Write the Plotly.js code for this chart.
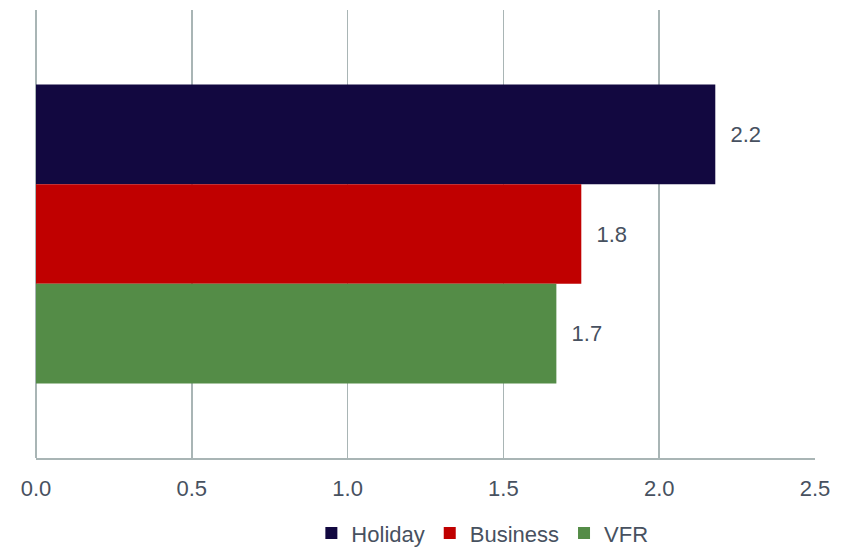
<!DOCTYPE html>
<html>
<head>
<meta charset="utf-8">
<script src="https://cdn.plot.ly/plotly-3.0.1.min.js"></script>
<style>html,body{margin:0;padding:0;background:#fff;}#chart{width:846px;height:548px;}</style>
</head>
<body>
<div id="chart"></div>
<script>
const categories = ["All"];
const seriesNames = ["Holiday", "Business", "VFR"];
const holiday = [2.18];
const business = [1.75];
const vfr = [1.67];
const labels = [["2.2"], ["1.8"], ["1.7"]];
const tickVals = [0, 0.5, 1.0, 1.5, 2.0, 2.5];
const tickText = ["0.0", "0.5", "1.0", "1.5", "2.0", "2.5"];
const colors = ["#120840", "#c00000", "#548c47"];

const values = [holiday, business, vfr];
const pad = "\u00a0\u00a0";
const FONT = "Liberation Sans, Arial, sans-serif";
const traces = seriesNames.map((name, i) => ({
  type: "bar",
  orientation: "h",
  name: name,
  y: categories,
  x: values[i],
  text: labels[i].map(t => pad + t),
  textposition: "outside",
  constraintext: "none",
  cliponaxis: false,
  textfont: {family: FONT, size: 22, color: "#475160"},
  marker: {color: colors[i]},
  hoverinfo: "x+name"
}));

const layout = {
  width: 846, height: 548,
  margin: {l: 36, r: 31, t: 10, b: 90, autoexpand: false},
  paper_bgcolor: "#ffffff", plot_bgcolor: "#ffffff",
  barmode: "group",
  bargap: 0.333,
  bargroupgap: 0,
  showlegend: true,
  legend: {
    orientation: "h", x: 0.573, xanchor: "center", y: -0.121, yanchor: "top",
    font: {family: FONT, size: 22, color: "#475160"},
    itemwidth: 30, tracegroupgap: 0, traceorder: "normal"
  },
  xaxis: {
    range: [0, 2.5], tickvals: tickVals, ticktext: tickText,
    showgrid: true, gridcolor: "#a9b5b5", gridwidth: 1.5,
    zeroline: true, zerolinecolor: "#a9b5b5", zerolinewidth: 1.5,
    showline: true, linecolor: "#a9b5b5", linewidth: 1.5,
    ticks: "", ticklabelstandoff: 10,
    tickfont: {family: FONT, size: 22, color: "#475160"},
    automargin: false,
    fixedrange: true
  },
  yaxis: {
    autorange: "reversed", showticklabels: false, showgrid: false, zeroline: false, showline: false, ticks: "",
    automargin: false,
    fixedrange: true
  }
};

Plotly.newPlot("chart", traces, layout, {displayModeBar: false, staticPlot: true});
</script>
</body>
</html>
